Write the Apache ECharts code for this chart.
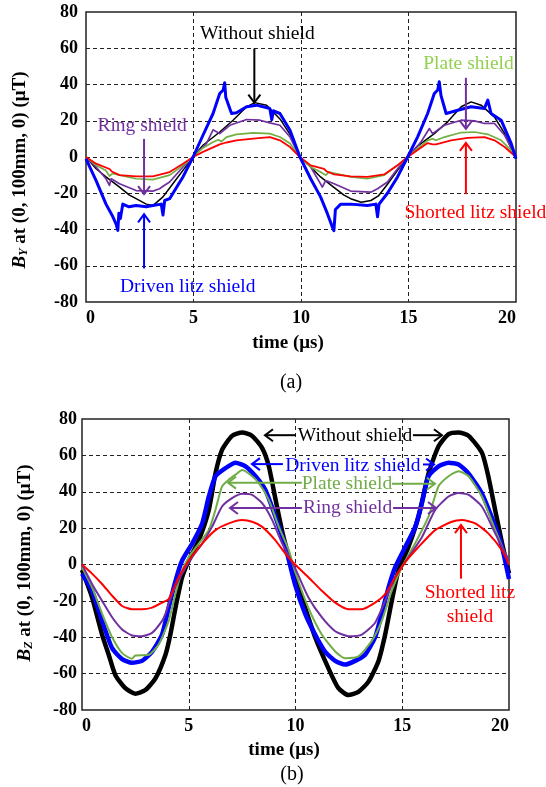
<!DOCTYPE html>
<html>
<head>
<meta charset="utf-8">
<script src="https://cdn.jsdelivr.net/npm/echarts@6/dist/echarts.min.js"></script>
<style>
  html, body { margin: 0; padding: 0; background: #fff; }
  #main { width: 546px; height: 787px; }
</style>
</head>
<body>
<div id="main"></div>
<script>
const FONT = '"Liberation Serif", "Times New Roman", serif'

const seriesNames = ['Without shield', 'Driven litz shield', 'Plate shield', 'Ring shield', 'Shorted litz shield']

// (a) B_Y, pairs of [time us, field uT]
const byWithout = [[0, 0], [0.47, -6.5], [0.93, -11], [1.56, -16.6], [2.02, -21], [2.33, -23], [2.8, -26], [3.11, -26.8], [3.58, -22], [4.04, -14.8], [4.51, -7.4], [4.98, 0], [5.44, 6.5], [6.22, 13.8], [6.84, 20.3], [7.47, 27.7], [7.85, 30], [8.4, 28.6], [9.02, 21], [9.49, 12.5], [9.95, 0],
  [10.45, -5.5], [10.91, -11], [11.5, -16.5], [12.0, -21], [12.31, -23], [12.8, -25], [13.25, -24], [13.6, -21.5], [14.02, -15], [14.49, -7.4], [14.96, 0], [15.42, 6], [16.2, 12.9], [16.82, 19.4], [17.45, 27.7], [17.91, 30.4], [18.38, 28.6], [19.0, 22], [19.47, 13], [19.95, 0]]
const byDriven = [[0, -1], [0.47, -13], [0.93, -26], [1.25, -33], [1.4, -37], [1.48, -40.5], [1.53, -31], [1.6, -34], [1.71, -26], [2.0, -27.5], [2.33, -26.8], [2.8, -27.5], [3.11, -26.8], [3.5, -26], [3.58, -32], [3.66, -24], [3.89, -23], [4.2, -17], [4.51, -11], [4.98, 0], [5.44, 12], [5.91, 24], [6.22, 35], [6.38, 37], [6.45, 41], [6.5, 33], [6.77, 24], [7.0, 24.4], [7.47, 27.7], [7.93, 28.6], [8.55, 26.8], [8.64, 20.5], [8.72, 25.5], [9.02, 24], [9.49, 14.8], [9.95, 0],
  [10.45, -12], [10.91, -22], [11.22, -31], [11.46, -38.7], [11.53, -40.6], [11.6, -29], [11.85, -26], [12.31, -26], [13.09, -26.8], [13.48, -26], [13.56, -33], [13.63, -26], [14.02, -20], [14.49, -11], [14.96, 0], [15.42, 11], [15.89, 24], [16.2, 35], [16.36, 37], [16.43, 41.5], [16.51, 34], [16.75, 24], [17.29, 25.8], [17.91, 27.7], [18.53, 26.8], [18.69, 31.4], [18.84, 24], [19.31, 20.3], [19.78, 7.4], [20, -1]]
const byPlate = [[0, 0], [0.47, -4.6], [0.93, -7.5], [1.09, -10.5], [1.25, -9], [1.56, -10], [2.33, -12], [3.11, -12.5], [3.89, -10], [4.51, -4.6], [4.98, 0], [5.44, 5], [5.91, 8.3], [6.15, 9.5], [6.3, 8.5], [6.53, 11], [7.0, 12.5], [7.78, 13.3], [8.55, 12.9], [9.02, 11], [9.49, 7.4], [9.95, 0],
  [10.45, -5.5], [10.91, -8.3], [11.15, -10], [11.3, -8.3], [12.31, -11], [13.09, -12], [13.87, -10], [14.49, -4.6], [14.96, 0], [15.89, 9.2], [16.12, 10], [16.28, 9.2], [16.67, 11], [17.45, 13.5], [18.07, 13.8], [18.69, 12.5], [19.31, 9.2], [19.78, 3.7], [20, 0]]
const byRing = [[0, 0], [0.47, -5.5], [0.93, -12], [1.09, -15.7], [1.17, -12], [1.56, -14.8], [2.33, -18.5], [3.11, -18.8], [3.42, -17.5], [3.6, -16], [3.89, -13.8], [4.51, -5.5], [4.98, 0], [5.6, 7.4], [5.91, 15], [6.0, 15.5], [6.22, 12.9], [6.69, 17.5], [7.47, 20.7], [8.09, 20.3], [8.55, 18.8], [9.02, 17.5], [9.49, 11], [9.95, 0],
  [10.45, -5.5], [10.91, -14.8], [10.99, -16.6], [11.15, -13], [11.54, -14.8], [12.31, -18.8], [13.25, -19.4], [13.56, -17.5], [14.02, -13.8], [14.49, -6.5], [14.96, 0], [15.58, 8.3], [15.97, 15.7], [16.12, 12.9], [16.67, 17.5], [17.45, 20.3], [18.07, 19.9], [18.53, 18.5], [19.0, 18.5], [19.47, 12], [20, 0]]
const byShorted = [[0, 0], [0.47, -3.7], [1.09, -6.6], [1.2, -8], [1.56, -10], [2.33, -10.7], [3.11, -10.7], [3.89, -8.3], [4.51, -3.7], [4.98, 0], [5.44, 2.8], [6.22, 7], [6.3, 6.3], [6.53, 8], [7.0, 9.2], [7.78, 10.1], [8.55, 11], [9.02, 9.2], [9.49, 5.5], [9.95, 0],
  [10.45, -4.6], [11.07, -6.5], [11.2, -8], [11.54, -9.6], [12.31, -10.7], [13.09, -11], [13.87, -9.6], [14.49, -4.6], [14.96, 0], [15.89, 7.7], [16.12, 7], [16.28, 7], [16.98, 9.2], [17.76, 10.5], [18.53, 11], [19.0, 9.2], [19.47, 5.5], [20, 0]]

// (b) B_Z
const bzWithout = [[0, -3], [0.47, -18], [0.94, -38.5], [1.25, -49.6], [1.56, -60.7], [2.03, -68], [2.5, -71], [2.97, -69], [3.44, -62.6], [3.91, -49.6], [4.14, -38.5], [4.38, -23.7], [4.69, -7], [5.0, 2.2], [5.47, 13.3], [5.94, 30], [6.25, 50], [6.56, 63], [7.03, 70.7], [7.5, 72.6], [7.97, 70.7], [8.44, 64], [8.75, 54], [9.06, 36], [9.38, 18], [9.69, 4], [9.98, -7],
  [10.45, -23.7], [10.92, -40], [11.54, -57], [12.01, -68], [12.48, -71.8], [12.95, -70], [13.42, -64.4], [13.89, -53], [14.2, -38.5], [14.51, -20], [14.82, -3.3], [15.29, 9.6], [15.76, 26.3], [16.23, 50], [16.7, 65], [17.17, 71.7], [17.64, 72.6], [18.11, 70.7], [18.73, 61.5], [19.04, 48], [19.35, 30], [19.67, 12], [20, -5]]
const bzDriven = [[0, -5], [0.47, -14.4], [0.94, -31], [1.41, -46], [1.88, -52], [2.34, -54], [2.81, -53], [3.28, -48], [3.75, -38.5], [4.06, -23.7], [4.38, -9], [4.69, 2.2], [5.16, 11.5], [5.63, 22.6], [5.94, 37.4], [6.25, 48.5], [6.72, 53], [7.19, 56], [7.66, 54], [8.13, 48.5], [8.59, 41], [9.06, 26.3], [9.53, 9.6], [9.98, -11],
  [10.45, -27], [10.92, -38.5], [11.39, -48], [11.86, -53], [12.32, -55], [12.79, -53], [13.26, -49.6], [13.73, -40], [14.04, -27], [14.36, -12.6], [14.67, -1.5], [15.14, 9.6], [15.61, 20.7], [15.92, 33.7], [16.23, 48.5], [16.7, 54], [17.17, 56], [17.64, 55], [18.11, 50], [18.73, 39], [19.36, 20.7], [19.67, 9.6], [20, -8]]
const bzPlate = [[0, -1.5], [0.47, -12.6], [0.94, -27], [1.41, -40], [1.88, -48.7], [2.34, -51.8], [2.5, -50], [3.13, -49.6], [3.59, -44], [4.06, -31], [4.38, -16], [4.69, -3.3], [5.0, 4], [5.47, 11.5], [5.94, 19], [6.25, 30], [6.56, 43], [6.88, 46.7], [7.19, 49.4], [7.5, 52], [7.81, 50], [8.28, 44.8], [8.75, 35.5], [9.22, 20.7], [9.69, 7.8], [9.98, -4],
  [10.6, -23.7], [11.23, -38.5], [11.86, -47.8], [12.32, -51.5], [12.95, -50.5], [13.57, -42], [14.04, -31], [14.51, -14.4], [14.98, -1.5], [15.6, 11.5], [16.23, 26.3], [16.7, 43], [17.17, 48.5], [17.64, 51.3], [18.11, 48.5], [18.73, 37.4], [19.36, 18.9], [19.82, 5.9], [20, 0]]
const bzRing = [[0, 0], [0.47, -10.7], [0.94, -20], [1.41, -29], [1.88, -35.7], [2.34, -39], [2.81, -39.4], [3.28, -37.6], [3.75, -31], [3.91, -27], [4.22, -16.3], [4.69, -5], [5.16, 4], [5.63, 11.5], [6.09, 20.7], [6.56, 31.9], [7.03, 36.5], [7.5, 38.9], [7.97, 38.3], [8.44, 33.7], [8.91, 24.4], [9.38, 11.5], [9.98, -2],
  [10.6, -18], [11.23, -29], [11.86, -36.7], [12.48, -39.4], [13.11, -38.5], [13.73, -32], [14.2, -20], [14.67, -7], [15.29, 4], [15.92, 15], [16.54, 30], [17.17, 37.4], [17.64, 39.3], [18.11, 38.3], [18.73, 31.9], [19.36, 17], [20, 2.2]]
const bzShorted = [[0, 0], [0.47, -5], [0.94, -10.7], [1.41, -17.2], [1.88, -22.8], [2.34, -24.6], [2.81, -24.6], [3.28, -23.7], [3.75, -21], [4.06, -19], [4.53, -7], [5.0, 2.2], [5.63, 11.5], [6.25, 18.9], [6.88, 22.6], [7.5, 24.4], [7.97, 23.5], [8.44, 20.7], [9.06, 13.3], [9.53, 5.9], [9.98, 0],
  [10.6, -7], [11.23, -14.4], [11.86, -21], [12.48, -24.6], [13.11, -24.6], [13.73, -21], [14.2, -16.3], [14.67, -7], [15.14, 1.3], [15.76, 9.6], [16.54, 18.9], [17.32, 23.5], [17.79, 24.4], [18.42, 22.6], [19.04, 17], [19.67, 7.8], [20, 0]]

// annotations in data units: [text, t, value]
const topNotes = [
  ['Without shield', 7.97, 68.1],
  ['Plate shield', 17.79, 51.5],
  ['Shorted litz shield', 18.11, -31],
  ['Ring shield', 2.61, 17.2],
  ['Driven litz shield', 4.73, -71.4]
]
// [t1, v1, t2, v2], arrow head at the second point
const topArrows = [
  [7.83, 59.8, 7.83, 30],
  [17.67, 43.7, 17.67, 15.5],
  [17.67, -20.5, 17.67, 7.8],
  [2.7, 10, 2.7, -20.5],
  [2.7, -61.5, 2.7, -31.6]
]
const bottomNotes = [
  ['Without shield', 12.79, 70.6],
  ['Driven litz shield', 12.69, 54.4],
  ['Plate shield', 12.41, 44.4],
  ['Ring shield', 12.44, 31.1],
  ['Shorted litz\nshield', 18.17, -22.2]
]
const bottomArrows = [
  [[10.02, 71.1, 8.57, 71.1], [15.5, 71.1, 16.86, 71.1]],
  [[9.41, 55.2, 7.96, 55.2], [15.97, 55, 16.49, 55]],
  [[10.3, 45, 6.84, 45], [14.52, 44.4, 16.53, 44.4]],
  [[10.3, 31.1, 6.93, 31.1], [14.57, 31.1, 16.58, 31.1]],
  [[17.75, -7.8, 17.75, 21.7]]
]

const lineColors = ['#000000', '#0000ff', '#72b043', '#7030a0', '#ff0000']
const topNoteColors = ['#000000', '#92d050', '#ff0000', '#7030a0', '#0000ff']
const topArrowColors = ['#000000', '#7030a0', '#ff0000', '#7030a0', '#0000ff']
const bottomColors = ['#000000', '#0000ff', '#70ad47', '#7030a0', '#ff0000']

const topWidths = [1.5, 3, 1.7, 1.7, 1.8]
const bottomWidths = [4.5, 4.5, 2, 2, 2]
const topZ = [2, 7, 4, 3, 5]
const bottomZ = [2, 3, 4, 5, 6]

const makeXAxis = (gridIndex) => ({
  type: 'value',
  gridIndex,
  min: 0,
  max: 20,
  interval: 5,
  axisLine: { show: false },
  axisTick: { show: false },
  axisLabel: {
    margin: 7,
    color: '#000',
    fontFamily: FONT,
    fontWeight: 'bold',
    fontSize: 18,
    alignMinLabel: 'left',
    alignMaxLabel: 'right'
  },
  splitLine: {
    show: true,
    showMinLine: false,
    showMaxLine: false,
    lineStyle: { color: '#222', width: 1, type: [4, 3] }
  }
})

const makeYAxis = (gridIndex, margin) => ({
  type: 'value',
  gridIndex,
  min: -80,
  max: 80,
  interval: 20,
  axisLine: { show: false },
  axisTick: { show: false },
  axisLabel: {
    margin,
    color: '#000',
    fontFamily: FONT,
    fontWeight: 'bold',
    fontSize: 18
  },
  splitLine: {
    show: true,
    showMinLine: false,
    showMaxLine: false,
    lineStyle: { color: '#222', width: 1, type: [4, 3] }
  }
})

const makeSeries = (gridIndex, datas, colors, widths, zs, smooth) => datas.map((data, i) => ({
  name: seriesNames[i],
  type: 'line',
  xAxisIndex: gridIndex,
  yAxisIndex: gridIndex,
  data,
  showSymbol: false,
  symbol: 'none',
  smooth,
  z: zs[i],
  lineStyle: { color: colors[i], width: widths[i], join: 'round' },
  silent: true
}))

const option = {
  animation: false,
  backgroundColor: '#fff',
  grid: [
    { left: 86, top: 12, width: 430, height: 290, show: true, borderColor: '#222', borderWidth: 1.5, backgroundColor: 'transparent' },
    { left: 82, top: 419, width: 427, height: 291, show: true, borderColor: '#222', borderWidth: 1.5, backgroundColor: 'transparent' }
  ],
  xAxis: [makeXAxis(0), makeXAxis(1)],
  yAxis: [makeYAxis(0, 8), makeYAxis(1, 5)],
  series: [
    ...makeSeries(0, [byWithout, byDriven, byPlate, byRing, byShorted], lineColors, topWidths, topZ, false),
    ...makeSeries(1, [bzWithout, bzDriven, bzPlate, bzRing, bzShorted], bottomColors, bottomWidths, bottomZ, 0.2)
  ]
}

const chart = echarts.init(document.getElementById('main'))
chart.setOption(option)

const toPx = (g, t, v) => chart.convertToPixel({ gridIndex: g }, [t, v])

const textEl = (text, x, y, color, extra) => ({
  type: 'text',
  x,
  y,
  silent: true,
  z: 100,
  style: Object.assign({
    text,
    fill: color,
    font: '19.5px ' + FONT,
    align: 'center',
    verticalAlign: 'middle'
  }, extra || {})
})

const arrowEls = (g, a, color) => {
  const p1 = toPx(g, a[0], a[1])
  const p2 = toPx(g, a[2], a[3])
  const dx = p2[0] - p1[0]
  const dy = p2[1] - p1[1]
  const len = Math.sqrt(dx * dx + dy * dy)
  const ux = dx / len
  const uy = dy / len
  const h = 8
  const w = 6
  const head = [
    [p2[0] - ux * h - uy * w, p2[1] - uy * h + ux * w],
    [p2[0], p2[1]],
    [p2[0] - ux * h + uy * w, p2[1] - uy * h - ux * w]
  ]
  return [
    { type: 'polyline', silent: true, z: 100, shape: { points: [p1, p2] }, style: { stroke: color, lineWidth: 2, fill: null } },
    { type: 'polyline', silent: true, z: 100, shape: { points: head }, style: { stroke: color, lineWidth: 2, fill: null } }
  ]
}

const graphics = []

topNotes.forEach((n, i) => {
  const p = toPx(0, n[1], n[2])
  graphics.push(textEl(n[0], p[0], p[1], topNoteColors[i]))
})
topArrows.forEach((a, i) => graphics.push(...arrowEls(0, a, topArrowColors[i])))

bottomNotes.forEach((n, i) => {
  const p = toPx(1, n[1], n[2])
  graphics.push(textEl(n[0], p[0], p[1], bottomColors[i], { lineHeight: 24 }))
})
bottomArrows.forEach((list, i) => list.forEach((a) => graphics.push(...arrowEls(1, a, bottomColors[i]))))

// axis titles and panel captions
const yTitle = (sub) => ({
  text: '{i|B}{s|' + sub + '}{n| at (0, 100mm, 0) (\u03bcT)}',
  fill: '#000',
  align: 'center',
  verticalAlign: 'middle',
  rich: {
    i: { fontFamily: FONT, fontSize: 19, fontWeight: 'bold', fontStyle: 'italic', lineHeight: 20, verticalAlign: 'bottom' },
    s: { fontFamily: FONT, fontSize: 12, fontWeight: 'bold', fontStyle: 'italic', lineHeight: 12, verticalAlign: 'bottom' },
    n: { fontFamily: FONT, fontSize: 19, fontWeight: 'bold', lineHeight: 20, verticalAlign: 'bottom' }
  }
})

graphics.push({ type: 'text', x: 20, y: 170, rotation: Math.PI / 2, silent: true, style: yTitle('Y') })
graphics.push({ type: 'text', x: 25, y: 563, rotation: Math.PI / 2, silent: true, style: yTitle('Z') })
graphics.push(textEl('time (\u03bcs)', 288, 343, '#000', { font: 'bold 19px ' + FONT }))
graphics.push(textEl('time (\u03bcs)', 284, 750, '#000', { font: 'bold 19px ' + FONT }))
graphics.push(textEl('(a)', 291, 383, '#000', { font: '20px ' + FONT }))
graphics.push(textEl('(b)', 292, 775, '#000', { font: '20px ' + FONT }))

chart.setOption({ graphic: { elements: graphics } })
</script>
</body>
</html>
